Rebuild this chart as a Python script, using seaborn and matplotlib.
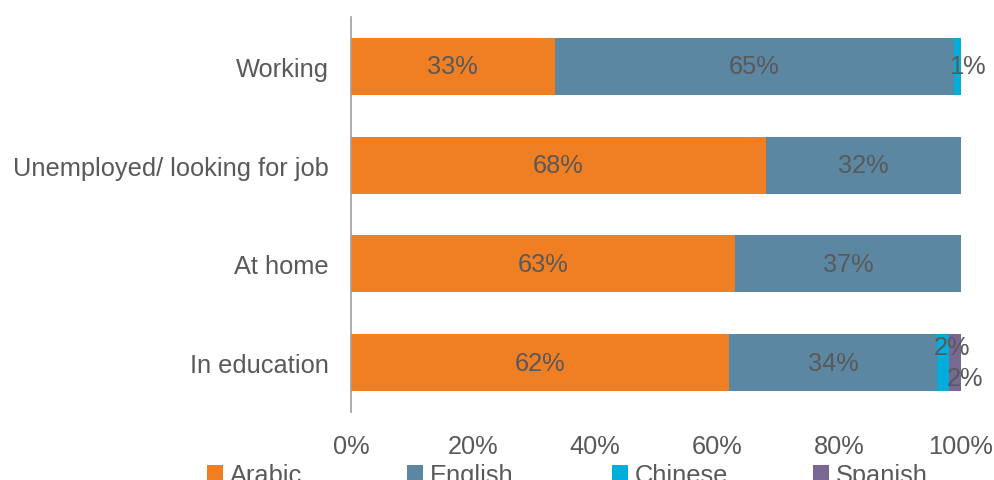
import numpy as np
import pandas as pd
import matplotlib
matplotlib.use("Agg")
import matplotlib.pyplot as plt
import seaborn as sns
from matplotlib.patches import Patch

categories = ["Working", "Unemployed/ looking for job", "At home", "In education"]
series_names = ["Arabic", "English", "Chinese", "Spanish"]
arabic = [33.4, 68.0, 63.0, 62.0]
english = [65.4, 32.0, 37.0, 34.0]
chinese = [1.2, 0.0, 0.0, 2.0]
spanish = [0.0, 0.0, 0.0, 2.0]
xtick_vals = [0, 20, 40, 60, 80, 100]
xtick_labels = ["0%", "20%", "40%", "60%", "80%", "100%"]

colors = ["#F07F24", "#5B87A3", "#00AEDB", "#7A6894"]
text_color = "#595959"

sns.set_theme(style="white")
plt.rcParams["font.family"] = ["Liberation Sans", "DejaVu Sans"]

df = pd.DataFrame({"category": categories, "Arabic": arabic, "English": english,
                   "Chinese": chinese, "Spanish": spanish})
cum = df[series_names].cumsum(axis=1)

fig = plt.figure(figsize=(9.95, 4.81), dpi=100)
ax = fig.add_axes([351/995, 1-413/481, (961-351)/995, (413-18)/481])

# draw cumulative from last to first so that each stack segment is visible
for name, col in reversed(list(zip(series_names, colors))):
    sns.barplot(x=cum[name], y=df["category"], color=col, orient="h",
                width=0.575, ax=ax, saturation=1, edgecolor="none")

fs = 18.3
# labels
for i, cat in enumerate(categories):
    left = 0.0
    for j, name in enumerate(series_names):
        v = df.loc[i, name]
        if v > 0:
            cx = left + v / 2
            cy = i
            if v < 5:
                cx += 1.6
                if name == "Chinese" and df.loc[i, "Spanish"] > 0:
                    cy -= 0.16
                elif name == "Spanish":
                    cy += 0.16
            ax.text(cx, cy, f"{v:.0f}%", ha="center", va="center",
                    color=text_color, fontsize=fs)
        left += v

ax.set_xlim(0, 100)
ax.set_ylim(3.5, -0.5)
ax.set_xticks(xtick_vals)
ax.set_xticklabels(xtick_labels)
ax.set_xlabel("")
ax.set_ylabel("")
ax.tick_params(axis="x", length=0, pad=16, labelsize=fs, colors=text_color)
ax.tick_params(axis="y", length=0, pad=16, labelsize=fs, colors=text_color)
for s in ["top", "right", "bottom"]:
    ax.spines[s].set_visible(False)
ax.spines["left"].set_color("#A0A0A0")
ax.spines["left"].set_linewidth(1.2)
ax.grid(False)

# legend entries spaced evenly, as in the reference
handles = [Patch(facecolor=c, edgecolor="none") for c in colors]
legend_x = [207, 407, 612, 813]
for h, lab, lx in zip(handles, series_names, legend_x):
    fig.legend([h], [lab], loc="center left", bbox_to_anchor=((lx - 20) / 995, 0.010),
               frameon=False, fontsize=fs, labelcolor=text_color,
               handlelength=0.6, handleheight=0.6, handletextpad=0.3,
               borderpad=0.3)

fig.savefig("out.png", dpi=100)
